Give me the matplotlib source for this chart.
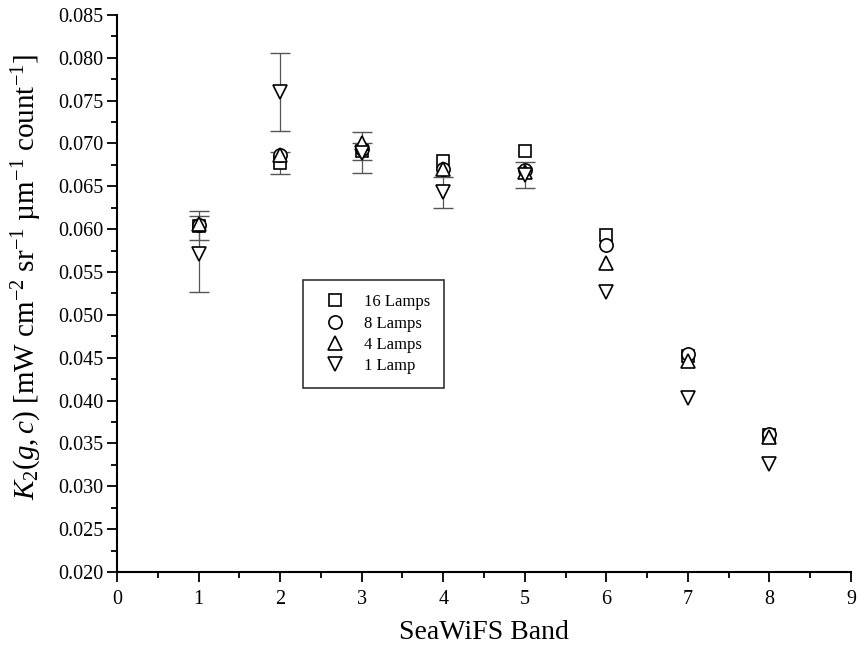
import numpy as np
import matplotlib
matplotlib.use("Agg")
import matplotlib.pyplot as plt
from matplotlib.ticker import MultipleLocator, FormatStrFormatter

bands = [1, 2, 3, 4, 5, 6, 7, 8]
lamps16 = [0.0604, 0.0677, 0.0691, 0.0679, 0.0691, 0.0593, 0.0452, 0.0360]
lamps8 = [0.0605, 0.0686, 0.0693, 0.0670, 0.0669, 0.0581, 0.0454, 0.0361]
lamps4 = [0.0606, 0.0687, 0.0700, 0.0670, 0.0667, 0.0561, 0.0446, 0.0358]
lamps1 = [0.0571, 0.0760, 0.0689, 0.0643, 0.0663, 0.0527, 0.0403, 0.0326]
err16_bands = [1, 2, 3]
err16 = [0.0017, 0.0013, 0.0010]
err1_bands = [1, 2, 3, 4, 5]
err1 = [0.0044, 0.0046, 0.0024, 0.0018, 0.0015]
labels = ["16 Lamps", "8 Lamps", "4 Lamps", "1 Lamp"]

plt.rcParams['font.family'] = ['Liberation Serif', 'DejaVu Serif']
plt.rcParams['mathtext.fontset'] = 'custom'
plt.rcParams['mathtext.rm'] = 'Liberation Serif'
plt.rcParams['mathtext.it'] = 'Liberation Serif:italic'

fig = plt.figure(figsize=(8.57, 6.46), dpi=100)
ax = fig.add_axes([0.1365, 0.1146, 0.8565, 0.8624])

ecol = '#555555'
ax.errorbar([bands[i - 1] for i in err16_bands], [lamps16[i - 1] for i in err16_bands],
            yerr=err16, fmt='none', ecolor=ecol, elinewidth=0.9, capsize=7, capthick=1.0, zorder=1)
ax.errorbar([bands[i - 1] for i in err1_bands], [lamps1[i - 1] for i in err1_bands],
            yerr=err1, fmt='none', ecolor=ecol, elinewidth=0.9, capsize=7, capthick=1.0, zorder=1)

mk = dict(linestyle='none', markerfacecolor='white', markeredgecolor='black',
          markeredgewidth=1.2, zorder=3)
ax.plot(bands, lamps16, marker='s', markersize=8.5, label=labels[0], **mk)
ax.plot(bands, lamps8, marker='o', markersize=9.5, label=labels[1], **mk)
ax.plot(bands, lamps4, marker='^', markersize=10, label=labels[2], **mk)
ax.plot(bands, lamps1, marker='v', markersize=10, label=labels[3], **mk)

ax.set_xlim(0, 9)
ax.set_ylim(0.020, 0.085)
ax.xaxis.set_major_locator(MultipleLocator(1))
ax.xaxis.set_minor_locator(MultipleLocator(0.5))
ax.yaxis.set_major_locator(MultipleLocator(0.005))
ax.yaxis.set_minor_locator(MultipleLocator(0.0025))
ax.yaxis.set_major_formatter(FormatStrFormatter('%.3f'))
for s in ['top', 'right']:
    ax.spines[s].set_visible(False)
for s in ['left', 'bottom']:
    ax.spines[s].set_linewidth(1.5)
ax.tick_params(which='major', direction='out', length=7.2, width=1.3, labelsize=14.5)
ax.tick_params(which='minor', direction='out', length=4.3, width=1.3)
ax.tick_params(axis='x', which='major', pad=5.5)
ax.tick_params(axis='y', which='major', pad=2.5)

ax.set_xlabel('SeaWiFS Band', fontsize=20, labelpad=8)
ax.set_ylabel(r'$K_2(g,c)$ [mW cm$^{-2}$ sr$^{-1}$ µm$^{-1}$ count$^{-1}$]', fontsize=21)
ax.yaxis.set_label_coords(-0.100, 0.53)

leg = ax.legend(loc='upper left', bbox_to_anchor=(0.253, 0.524), borderaxespad=0,
                fontsize=12, frameon=True, fancybox=False, handletextpad=0.6,
                labelspacing=0.32, borderpad=0.85, handlelength=2.2)
leg.get_frame().set_edgecolor('black')
leg.get_frame().set_linewidth(1.2)

fig.savefig('out.png', dpi=100)
